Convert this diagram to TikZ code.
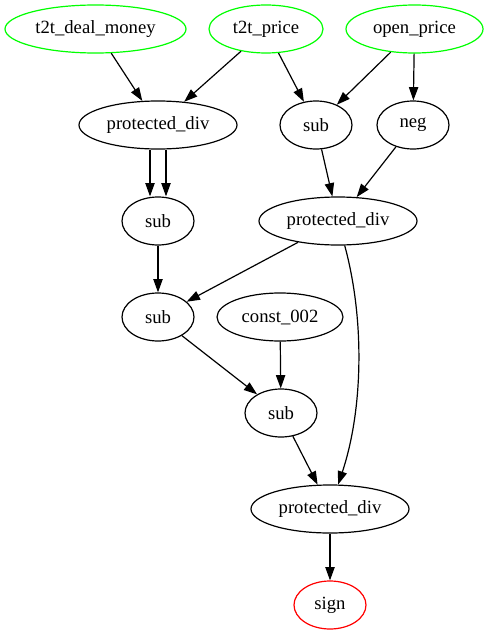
\documentclass[tikz,border=0pt]{standalone}
\usepackage{fontspec}
\setmainfont{Liberation Serif}
\usetikzlibrary{shapes.geometric,arrows.meta}
\definecolor{gvgreen}{HTML}{00FF00}
\definecolor{gvred}{HTML}{FF0000}
\tikzset{
  gv/.style={ellipse, draw, line width=0.9pt, inner sep=0pt, minimum height=36pt,
    font=\fontsize{14}{16}\selectfont},
  src/.style={gv, draw=gvgreen},
  dst/.style={gv, draw=gvred},
  edge/.style={line width=0.9pt, -{Triangle[length=10pt,width=7pt]}}
}
\newcommand{\lbl}[1]{\makebox[0pt]{#1}}
\begin{document}
\begin{tikzpicture}[x=0.75pt,y=-0.75pt]
\useasboundingbox (0,0) rectangle (485,635);
% row 1
\node[src, minimum width=135.75pt] (dm) at (95.5,29) {\lbl{t2t\_deal\_money}};
\node[src, minimum width=85.5pt] (tp) at (266,29) {\lbl{t2t\_price}};
\node[src, minimum width=102.75pt] (op) at (414.5,29) {\lbl{open\_price}};
% row 2
\node[gv, minimum width=118.5pt] (pd1) at (158,125) {\lbl{protected\_div}};
\node[gv, minimum width=54pt] (sa) at (316,125) {\lbl{sub}};
\node[gv, minimum width=54pt] (ng) at (413,125) {\lbl{neg}};
% row 3
\node[gv, minimum width=54pt] (sb) at (158,221) {\lbl{sub}};
\node[gv, minimum width=118.5pt] (pd2) at (338,221) {\lbl{protected\_div}};
% row 4
\node[gv, minimum width=54pt] (sc) at (158,317) {\lbl{sub}};
\node[gv, minimum width=94.5pt] (cst) at (280,317) {\lbl{const\_002}};
% row 5
\node[gv, minimum width=54pt] (sd) at (281,413) {\lbl{sub}};
% row 6
\node[gv, minimum width=118.5pt] (pd3) at (330,509) {\lbl{protected\_div}};
% row 7
\node[dst, minimum width=54pt] (sg) at (330,605) {\lbl{sign}};
% edges
\draw[edge] (dm) -- (pd1);
\draw[edge] (tp) -- (pd1);
\draw[edge] (tp) -- (sa);
\draw[edge] (op) -- (sa);
\draw[edge] (op) -- (ng);
\draw[edge] ([xshift=-6pt]pd1.south) -- ([xshift=-6pt]sb.north);
\draw[edge] ([xshift=6pt]pd1.south) -- ([xshift=6pt]sb.north);
\draw[edge] (sa) -- (pd2);
\draw[edge] (ng) -- (pd2);
\draw[edge] (sb) -- (sc);
\draw[edge] (pd2) -- (sc);
\draw[edge] (pd2) .. controls (365,320) and (363,410) .. (pd3);
\draw[edge] (sc) -- (sd);
\draw[edge] (cst) -- (sd);
\draw[edge] (sd) -- (pd3);
\draw[edge] (pd3) -- (sg);
\end{tikzpicture}
\end{document}
